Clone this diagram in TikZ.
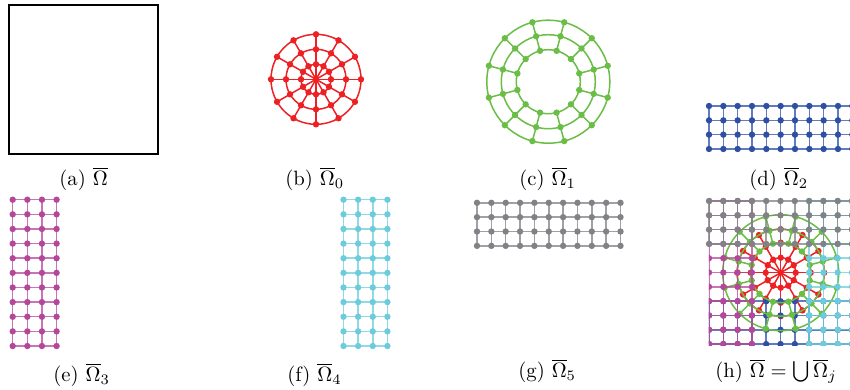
\documentclass[tikz,border=0pt]{standalone}
\definecolor{mred}{HTML}{ED2024}
\definecolor{mgreen}{HTML}{6ABD45}
\definecolor{mblue}{HTML}{2E4FA3}
\definecolor{mmag}{HTML}{B5479B}
\definecolor{mcyan}{HTML}{6CCCDB}
\definecolor{mgray}{HTML}{808285}
\tikzset{
  capt/.style={anchor=base west,inner sep=0pt,scale=2.07},
  meshline/.style={line width=1.5pt}
}
% \gridmesh{colour}{x0}{y0}{dx}{dy}{last col}{last row}
\newcommand{\gridmesh}[7]{%
  \foreach \i in {0,...,#6}{\draw[meshline,#1,draw opacity=.75] ({#2+\i*#4},#3) -- ({#2+\i*#4},{#3+#7*#5});}
  \foreach \j in {0,...,#7}{\draw[meshline,#1,draw opacity=.75] (#2,{#3+\j*#5}) -- ({#2+#6*#4},{#3+\j*#5});}
  \foreach \i in {0,...,#6}{\foreach \j in {0,...,#7}{\fill[#1] ({#2+\i*#4},{#3+\j*#5}) circle[radius=3.2pt];}}
}
% \polarmesh{colour}{cx}{cy}{r1}{r2}{r3}{start angle}{spoke start radius}{centre radius}
\newcommand{\polarmesh}[9]{%
  \draw[meshline,#1] (#2,#3) circle[radius=#4pt];
  \draw[meshline,#1] (#2,#3) circle[radius=#5pt];
  \draw[meshline,#1] (#2,#3) circle[radius=#6pt];
  \foreach \k in {0,...,11}{
    \pgfmathsetmacro{\aa}{#7+30*\k}
    \draw[meshline,#1] ($(#2,#3)+(\aa:#8pt)$) -- ($(#2,#3)+(\aa:#4pt)$);
    \fill[#1] ($(#2,#3)+(\aa:#4pt)$) circle[radius=3.2pt];
    \fill[#1] ($(#2,#3)+(\aa:#5pt)$) circle[radius=3.2pt];
    \fill[#1] ($(#2,#3)+(\aa:#6pt)$) circle[radius=3.2pt];
  }
  \fill[#1] (#2,#3) circle[radius=#9pt];
}
\usetikzlibrary{calc}
\begin{document}
\begin{tikzpicture}[x=1pt,y=-1pt]
\useasboundingbox (0,0) rectangle (850,389);
\clip (0,0) rectangle (850,389);
% (a)
\draw[black,line width=1.1pt] (9,5) rectangle (158,154);
\node[capt] (capa) at (59,185) {(a) $\overline{\Omega}$};
% (b)
\polarmesh{mred}{316}{79.3}{45}{30}{15}{0}{0}{3}
\node[capt] (capb) at (285,185) {(b) $\overline{\Omega}_0$};
% (c)
\polarmesh{mgreen}{548.3}{81.7}{61.5}{47}{32}{15}{32}{0}
\node[capt] (capc) at (519,185) {(c) $\overline{\Omega}_1$};
% (d)
\gridmesh{mblue}{709}{106}{14.33}{14.33}{10}{3}
\node[capt] (capd) at (749,185) {(d) $\overline{\Omega}_2$};
% (e)
\gridmesh{mmag}{12.7}{199.7}{14.63}{14.63}{3}{10}
\node[capt] (cape) at (53,381) {(e) $\overline{\Omega}_3$};
% (f)
\gridmesh{mcyan}{343.5}{199.7}{14.63}{14.63}{3}{10}
\node[capt] (capf) at (287,381) {(f) $\overline{\Omega}_4$};
% (g)
\gridmesh{mgray}{477}{202.8}{14.35}{14.35}{10}{3}
\node[capt] (capg) at (518,377) {(g) $\overline{\Omega}_5$};
% (h)
\begin{scope}
  \clip (708.8,190) rectangle (850,345);
  \polarmesh{mred}{780.7}{272.7}{43.5}{30}{15}{0}{0}{3}
  \gridmesh{mblue}{709}{301.2}{14.3}{14.3}{10}{3}
  \polarmesh{mgreen}{780.7}{272.7}{58}{43.5}{30}{15}{30}{0}
  \gridmesh{mcyan}{809.1}{201}{14.3}{14.3}{3}{10}
  \gridmesh{mmag}{709}{201}{14.3}{14.3}{3}{10}
\end{scope}
\gridmesh{mgray}{709}{201}{14.3}{14.3}{10}{3}
\node[capt] (caph) at (715,377) {(h) $\overline{\Omega}=\bigcup\overline{\Omega}_j$};
\end{tikzpicture}
\end{document}
